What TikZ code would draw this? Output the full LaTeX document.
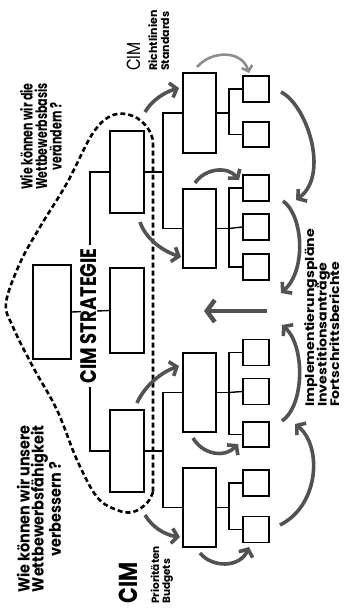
\documentclass[tikz,border=0pt]{standalone}
\usepackage{fontspec}
\setmainfont{Poppins}
\newfontfamily\condfont[FakeStretch=0.8]{Poppins}
\newfontfamily\qfont[FakeStretch=0.7]{Poppins}
\newfontfamily\wqfont[FakeStretch=0.9]{Poppins}
\newfontfamily\widefont[FakeStretch=1.15]{Poppins}
\usetikzlibrary{arrows.meta}
\begin{document}
\begin{tikzpicture}[x=1pt,y=-1pt,
  bigbox/.style={draw=black, line width=1.8pt, minimum width=34pt, minimum height=82pt, inner sep=0pt},
  midbox/.style={draw=black, line width=1.8pt, minimum width=33pt, minimum height=79pt, inner sep=0pt},
  smallbox/.style={draw=black, line width=1.8pt, minimum width=26pt, minimum height=26pt, inner sep=0pt},
  conn/.style={draw=black, line width=1.4pt},
  garrow/.style={draw=black!68, line width=3.6pt, -{Straight Barb[length=6pt,width=15pt]}},
  larrow/.style={draw=black!45, line width=2.6pt, -{Straight Barb[length=5pt,width=11pt]}},
  outline/.style={draw=black, line width=2.6pt, dash pattern=on 5pt off 3pt},
  vtext/.style={rotate=90, inner sep=0pt},
]
\fill[white] (0,0) rectangle (345,613);
\useasboundingbox (0,0) rectangle (345,613);

% dashed outline
\draw[outline] plot[smooth, tension=0.6] coordinates {(153,492) (147,503) (133,512) (117,510) (97,497) (77,460) (57,410) (33,367) (13,327) (6,303) (20,263) (40,227) (67,183) (93,133) (113,115) (133,116) (147,127) (153,140)} -- cycle;

% strategy level
\node[bigbox, minimum width=38pt, minimum height=94pt] (S1) at (52,312) {};
\node[bigbox, minimum height=85pt] (S2) at (127,310.5) {};
\node[bigbox] (A) at (127,172) {};
\node[bigbox] (B) at (127,451) {};
\coordinate (spT) at (90,172);
\coordinate (spB) at (90,451);
\draw[conn] (A.west) -- (spT) -- (spB) -- (B.west);
\draw[conn] (S1.east) -- (S2.west);
\node[vtext, fill=white, inner xsep=3pt, font=\condfont\bfseries\fontsize{22.5}{25}\selectfont] (strat) at (89,316) {CIM STRATEGIE};

% second level
\node[midbox, minimum height=80pt] (C) at (199.5,113) {};
\node[midbox] (D) at (199.5,228.5) {};
\node[midbox] (E) at (199.5,392.5) {};
\node[midbox] (F) at (199.5,507.5) {};
\coordinate (jA) at (163,172);
\coordinate (jB) at (163,451);
\draw[conn] (A.east) -- (jA);
\draw[conn] (C.west) -| (jA) |- (D.west);
\draw[conn] (B.east) -- (jB);
\draw[conn] (E.west) -| (jB) |- (F.west);

% third level
\node[smallbox] (C1) at (256,89) {};
\node[smallbox, minimum height=25pt] (C2) at (256,134.5) {};
\node[smallbox] (D1) at (256,188) {};
\node[smallbox] (D2) at (256,227) {};
\node[smallbox] (D3) at (256,267) {};
\node[smallbox] (E1) at (256,352.5) {};
\node[smallbox] (E2) at (256,391.5) {};
\node[smallbox, minimum height=25pt] (E3) at (256,434.5) {};
\node[smallbox] (F1) at (256,483) {};
\node[smallbox] (F2) at (256,529.5) {};
\coordinate (jC) at (229,113);
\coordinate (jD) at (229,228.5);
\coordinate (jE) at (229,392.5);
\coordinate (jF) at (229,507.5);
\draw[conn] (C.east) -- (jC);
\draw[conn] (C1.west) -| (jC) |- (C2.west);
\draw[conn] (D.east) -- (jD);
\draw[conn] (D1.west) -| (jD) |- (D3.west);
\draw[conn] (jD) -- (D2.west);
\draw[conn] (E.east) -- (jE);
\draw[conn] (E1.west) -| (jE) |- (E3.west);
\draw[conn] (jE) -- (E2.west);
\draw[conn] (F.east) -- (jF);
\draw[conn] (F1.west) -| (jF) |- (F2.west);

% arrows
\coordinate (a1s) at (145,112); \coordinate (a1e) at (179,88);
\draw[garrow] (a1s) .. controls (152,100) and (165,92) .. (a1e);
\coordinate (a2s) at (197,67); \coordinate (a2e) at (249,73);
\draw[larrow] (a2s) .. controls (212,50) and (242,50) .. (a2e);
\coordinate (a3s) at (281,92); \coordinate (a3e) at (296,200);
\draw[garrow] (a3s) .. controls (307,105) and (330,175) .. (a3e);
\coordinate (a4s) at (283,201); \coordinate (a4e) at (281,293);
\draw[garrow] (a4s) .. controls (303,215) and (307,270) .. (a4e);
\coordinate (a5s) at (282,421); \coordinate (a5e) at (282,325);
\draw[garrow] (a5s) .. controls (305,405) and (305,345) .. (a5e);
\coordinate (a6s) at (280,525); \coordinate (a6e) at (295,424);
\draw[garrow] (a6s) .. controls (320,505) and (322,445) .. (a6e);
\coordinate (a7s) at (140,222); \coordinate (a7e) at (181,257);
\draw[garrow] (a7s) .. controls (145,237) and (160,250) .. (a7e);
\coordinate (a8s) at (195,183); \coordinate (a8e) at (239,180);
\draw[garrow] (a8s) .. controls (205,168) and (228,166) .. (a8e);
\coordinate (a9s) at (137,403); \coordinate (a9e) at (179,366);
\draw[garrow] (a9s) .. controls (145,385) and (162,372) .. (a9e);
\coordinate (a10s) at (193,438); \coordinate (a10e) at (238,444);
\draw[garrow] (a10s) .. controls (203,455) and (225,458) .. (a10e);
\coordinate (a11s) at (145,515); \coordinate (a11e) at (180,537);
\draw[garrow] (a11s) .. controls (152,527) and (165,535) .. (a11e);
\coordinate (a12s) at (200,553); \coordinate (a12e) at (249,547);
\draw[garrow] (a12s) .. controls (212,568) and (240,568) .. (a12e);
\coordinate (cas) at (267,311); \coordinate (cae) at (204,311);
\draw[draw=black!68, line width=4.5pt, -{Straight Barb[length=8pt,width=22pt]}] (cas) -- (cae);

% texts
\node[vtext, align=center, font=\qfont\bfseries\fontsize{15.7}{14.5}\selectfont] (q1) at (41,136.5) {Wie können wir die\\Wettbewerbsbasis\\verändern ?};
\node[vtext, align=center, font=\wqfont\bfseries\fontsize{16}{14}\selectfont] (q2) at (39,509) {Wie können wir unsere\\Wettbewerbsfähigkeit\\verbessern ?};

\node[vtext, anchor=base west, font=\condfont\fontsize{19}{19}\selectfont] (cim1) at (140,71) {CIM};
\node[vtext, anchor=base west, font=\bfseries\fontsize{11}{11}\selectfont] (r1) at (157,71) {Richtlinien};
\node[vtext, anchor=base west, font=\bfseries\fontsize{11}{11}\selectfont] (r2) at (169,71) {Standards};

\node[vtext, anchor=base west, font=\condfont\bfseries\fontsize{26}{26}\selectfont] (cim2) at (137,604) {CIM};
\node[vtext, anchor=base west, font=\bfseries\fontsize{10.5}{10.5}\selectfont] (p1) at (159,604) {Prioritäten};
\node[vtext, anchor=base west, font=\bfseries\fontsize{10.5}{10.5}\selectfont] (p2) at (170,604) {Budgets};

\node[vtext, anchor=base west, font=\widefont\bfseries\fontsize{12.3}{12.3}\selectfont] (i1) at (314,407) {Implementierungspläne};
\node[vtext, anchor=base west, font=\widefont\bfseries\fontsize{12.3}{12.3}\selectfont] (i2) at (326.5,407) {Investitionsanträge};
\node[vtext, anchor=base west, font=\widefont\bfseries\fontsize{12.3}{12.3}\selectfont] (i3) at (339,407) {Fortschrittsberichte};
\end{tikzpicture}
\end{document}
